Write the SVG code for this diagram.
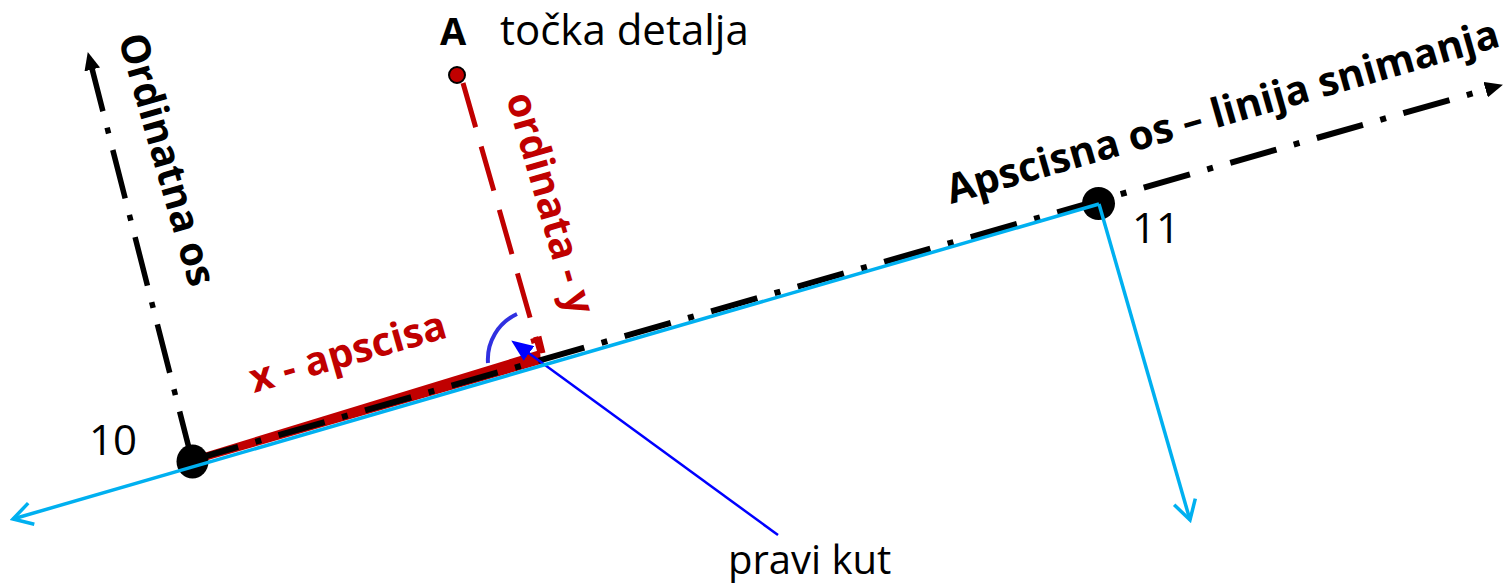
<svg xmlns="http://www.w3.org/2000/svg" width="1505" height="583" viewBox="0 0 1505 583">
<style>
  .lbl { font-family: "Open Sans", "Liberation Sans", sans-serif; font-size: 40px; fill: #000; }
  .num { font-size: 42px; }
  .bold { font-weight: bold; }
  .red { fill: #c00000; }
  .axis { fill: none; stroke: #000; stroke-width: 5.5; stroke-linecap: butt; }
  .blue { fill: none; stroke: #00b0f0; stroke-width: 3.5; }
</style>
<defs>
  <marker id="blackHead" markerUnits="userSpaceOnUse" viewBox="0 0 18 16" markerWidth="18" markerHeight="16" refX="1" refY="8" orient="auto">
    <path d="M0,0 L18,8 L0,16 z" fill="#000"/>
  </marker>
  <marker id="openBlue" markerUnits="userSpaceOnUse" viewBox="-22 -14 25 28" markerWidth="25" markerHeight="28" refX="0" refY="0" orient="auto">
    <path d="M-19,-11 L0,0 L-19,11" fill="none" stroke="#00b0f0" stroke-width="3.5"/>
  </marker>
  <marker id="blueHead" markerUnits="userSpaceOnUse" viewBox="0 0 22 18" markerWidth="22" markerHeight="18" refX="1" refY="9" orient="auto">
    <path d="M0,0 L22,9 L0,18 z" fill="#0000ff"/>
  </marker>
</defs>

<g id="connectors">
  <polygon id="x-band" points="194,464 194,456 540,350 541,364" fill="#c00000"/>
  <path id="ordinate-axis" class="axis" d="M192,460 L92,68.5" stroke-dasharray="50 17 6 17" marker-end="url(#blackHead)"/>
  <path id="abscissa-axis" class="axis" style="stroke-width:6" d="M192,460 L1486.6,89.4" stroke-dasharray="48 18 6 18" marker-end="url(#blackHead)"/>
  <path id="ordinate-y" d="M463,83 L540.2,353" fill="none" stroke="#c00000" stroke-width="5" stroke-dasharray="46 20"/>
  <path d="M531,341.5 L539.5,339 L543,353" fill="none" stroke="#c00000" stroke-width="5"/>
  <path id="right-angle-arc" d="M517,314 A50,50 0 0 0 488,363" fill="none" stroke="#3030e0" stroke-width="4"/>
  <path id="pointer" d="M778,535 L528.2,352.8" fill="none" stroke="#0000ff" stroke-width="2.5" marker-end="url(#blueHead)"/>
</g>

<g id="node-10">
  <ellipse cx="192.5" cy="461.5" rx="16" ry="17" fill="#000"/>
  <text class="lbl num" x="89" y="455">10</text>
</g>
<g id="node-11">
  <circle cx="1098.5" cy="203.5" r="16.5" fill="#000"/>
  <text class="lbl num" x="1132" y="243">11</text>
</g>

<g id="survey-lines">
  <path id="line-11-10" class="blue" d="M1099,204 L13,519" marker-end="url(#openBlue)"/>
  <path id="line-11-down" class="blue" d="M1099,204 L1190,520" marker-end="url(#openBlue)"/>
</g>

<g id="node-A">
  <circle cx="457" cy="75" r="8" fill="#c00000" stroke="#000" stroke-width="2"/>
  <text class="lbl bold" x="440" y="45" style="font-size:38px">A</text>
  <text class="lbl" x="500" y="45" style="font-size:42px">točka detalja</text>
</g>

<g id="labels">
  <text class="lbl bold" transform="translate(118,38) rotate(74)">Ordinatna os</text>
  <text class="lbl bold red" transform="translate(506,97) rotate(74)">ordinata - y</text>
  <text class="lbl bold red" transform="translate(254,393) rotate(-16)">x - apscisa</text>
  <text class="lbl bold" transform="translate(951,204) rotate(-16)" style="font-size:40.5px">Apscisna os – linija snimanja</text>
  <text class="lbl" x="728" y="574">pravi kut</text>
</g>
</svg>
